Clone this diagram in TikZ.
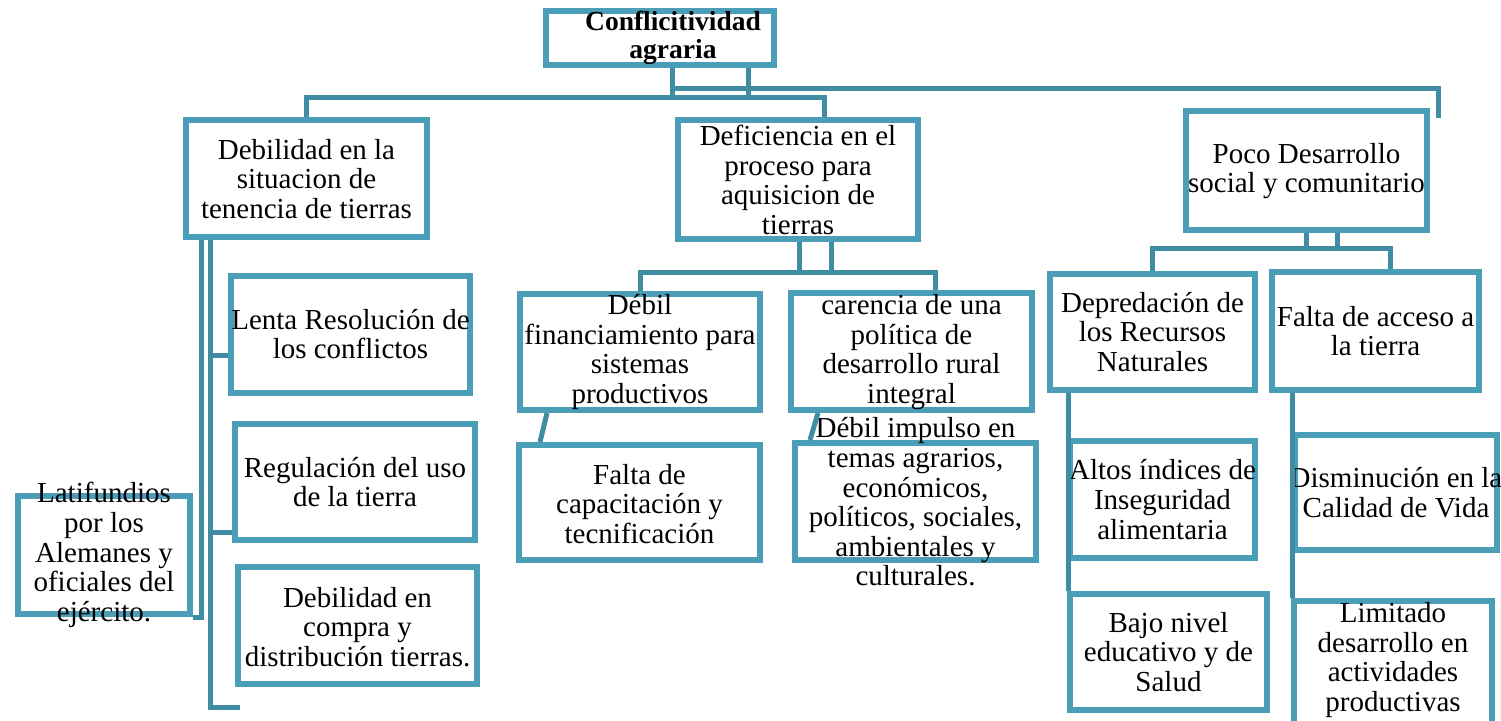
\documentclass[tikz,border=0pt]{standalone}
\usepackage{fontspec}
\setmainfont{Liberation Serif}
\definecolor{boxc}{RGB}{74,158,183}
\definecolor{linec}{RGB}{64,141,163}
\tikzset{
  bx/.style={draw=boxc, line width=6pt, rectangle, inner sep=0pt},
  tx/.style={align=center, inner sep=0pt, font=\fontsize{29}{29.6}\selectfont, text=black},
  conn/.style={draw=linec, line width=5pt},
}
\begin{document}
\begin{tikzpicture}[x=1pt,y=-1pt]
\useasboundingbox (0,0) rectangle (1501,720);
% boxes
\node[bx, minimum width=228pt, minimum height=54pt] (top) at (660,38) {};
\node[bx, minimum width=241pt, minimum height=117pt] (deb) at (306.5,178.5) {};
\node[bx, minimum width=240pt, minimum height=119pt] (def) at (798,179.5) {};
\node[bx, minimum width=241pt, minimum height=119pt] (poco) at (1306.5,170.5) {};
\node[bx, minimum width=239pt, minimum height=117pt] (lenta) at (350.5,334.5) {};
\node[bx, minimum width=240pt, minimum height=116pt] (regul) at (355,482) {};
\node[bx, minimum width=239pt, minimum height=117pt] (compra) at (357.5,625.5) {};
\node[bx, minimum width=172pt, minimum height=118pt] (lati) at (104,555) {};
\node[bx, minimum width=240pt, minimum height=116pt] (fin) at (640,352) {};
\node[bx, minimum width=241pt, minimum height=117pt] (care) at (911.5,351.5) {};
\node[bx, minimum width=241pt, minimum height=115pt] (cap) at (639.5,502.5) {};
\node[bx, minimum width=241pt, minimum height=117pt] (imp) at (915.5,501.5) {};
\node[bx, minimum width=205pt, minimum height=116pt] (dep) at (1152.5,332) {};
\node[bx, minimum width=207pt, minimum height=118pt] (acc) at (1375.5,331) {};
\node[bx, minimum width=185pt, minimum height=117pt] (alt) at (1162.5,499.5) {};
\node[bx, minimum width=202pt, minimum height=115pt] (dis) at (1396,492.5) {};
\node[bx, minimum width=197pt, minimum height=116pt] (baj) at (1168.5,652) {};
\node[bx, minimum width=198pt, minimum height=124pt] (lim) at (1393,663) {};
% texts
\node[tx, font=\bfseries\fontsize{27.5}{27.5}\selectfont] (topT) at (673,38) {Conflicitividad\\agraria};
\node[tx] (debT) at (306.5,179) {Debilidad en la\\situacion de\\tenencia de tierras};
\node[tx] (defT) at (798,180) {Deficiencia en el\\proceso para\\aquisicion de\\tierras};
\node[tx] (pocoT) at (1306.5,171) {Poco Desarrollo\\social y comunitario};
\node[tx] (lentaT) at (350.5,334) {Lenta Resolución de\\los conflictos};
\node[tx] (regulT) at (355,482) {Regulación del uso\\de la tierra};
\node[tx] (compraT) at (357.5,627) {Debilidad en\\compra y\\distribución tierras.};
\node[tx] (latiT) at (104,555) {Latifundios\\por los\\Alemanes y\\oficiales del\\ejército.};
\node[tx] (finT) at (640,352) {Débil\\financiamiento para\\sistemas\\productivos};
\node[tx] (careT) at (911.5,352) {carencia de una\\política de\\desarrollo rural\\integral};
\node[tx] (capT) at (639.5,504) {Falta de\\capacitación y\\tecnificación};
\node[tx] (impT) at (915.5,502) {Débil impulso en\\temas agrarios,\\económicos,\\políticos, sociales,\\ambientales y\\culturales.};
\node[tx] (depT) at (1152.5,332) {Depredación de\\los Recursos\\Naturales};
\node[tx] (accT) at (1375.5,331) {Falta de acceso a\\la tierra};
\node[tx] (altT) at (1162.5,499.5) {Altos índices de\\Inseguridad\\alimentaria};
\node[tx] (disT) at (1396,492.5) {Disminución en la\\Calidad de Vida};
\node[tx] (bajT) at (1168.5,652) {Bajo nivel\\educativo y de\\Salud};
\node[tx] (limT) at (1393,660) {Limitado\\desarrollo en\\actividades\\productivas};
% junction coordinates
\coordinate (s1) at (672,97);
\coordinate (s2) at (748,97);
\coordinate (h1) at (672,88);
\coordinate (e1) at (1438,88);
\coordinate (e2) at (1438,118);
\coordinate (d1) at (824,97);
\coordinate (a1) at (201,617);
\coordinate (b0) at (210,0);
\coordinate (b1) at (210,707);
\coordinate (b2) at (240,707);
\coordinate (bl) at (210,355);
\coordinate (br) at (210,532);
\coordinate (m1) at (799,272);
\coordinate (m2) at (831,272);
\coordinate (mr) at (935,272);
\coordinate (f1) at (547,0);
\coordinate (f2) at (540,0);
\coordinate (g1) at (818,0);
\coordinate (g2) at (810,0);
\coordinate (p1) at (1306,248);
\coordinate (p2) at (1337,248);
\coordinate (pr) at (1390,248);
\coordinate (q1) at (1068,0);
\coordinate (q2) at (1292,0);
% connectors
\draw[conn] (top.south -| s1) -- (s1);
\draw[conn] (top.south -| s2) -- (s2);
\draw[conn] (h1) -- (e1) -- (e2);
\draw[conn] (deb.north) |- (d1) -- (def.north -| d1);
\draw[conn] (deb.south -| a1) |- (lati.south east);
\draw[conn] (deb.south -| b0) -- (b1) -- (b2);
\draw[conn] (bl) -- (bl -| lenta.west);
\draw[conn] (br) -- (br -| regul.west);
\draw[conn] (def.south -| m1) -- (m1);
\draw[conn] (def.south -| m2) -- (m2);
\draw[conn] (fin.north) |- (mr) -- (care.north -| mr);
\draw[conn] (fin.south -| f1) -- (cap.north -| f2);
\draw[conn] (care.south -| g1) -- (imp.north -| g2);
\draw[conn] (poco.south -| p1) -- (p1);
\draw[conn] (poco.south -| p2) -- (p2);
\draw[conn] (dep.north) |- (pr) -- (acc.north -| pr);
\draw[conn] (dep.south -| q1) -- (baj.north -| q1);
\draw[conn] (acc.south -| q2) -- (lim.north -| q2);
\end{tikzpicture}
\end{document}
